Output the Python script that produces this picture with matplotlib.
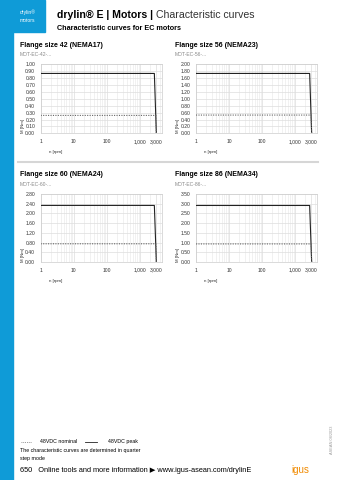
import matplotlib
matplotlib.use("Agg")
import matplotlib.pyplot as plt
import matplotlib.patches as patches
from matplotlib.ticker import FixedLocator, LogLocator, NullFormatter

plt.rcParams['font.family'] = ['Liberation Sans', 'DejaVu Sans']

# data
titles = ["Flange size 42 (NEMA17)", "Flange size 56 (NEMA23)",
          "Flange size 60 (NEMA24)", "Flange size 86 (NEMA34)"]
models = ["MOT-EC-42-...", "MOT-EC-56-...", "MOT-EC-60-...", "MOT-EC-86-..."]
speed_peak = [1, 2700, 3100]
speed_nominal = [1, 3000, 3100]
peak_torque = [0.87, 1.74, 2.33, 2.91]
nominal_torque = [0.26, 0.53, 0.75, 0.93]
y_max = [1.0, 2.0, 2.8, 3.5]
y_step = [0.1, 0.2, 0.4, 0.5]
x_ticks = [1, 10, 100, 1000, 3000]
x_ticklabels = ["1", "10", "100", "1,000", "3,000"]

W, H = 339, 480
fig = plt.figure(figsize=(W / 100, H / 100), dpi=100)

def px(x, y):
    return x / W, 1 - y / H

blue = '#0f9bd7'

# blue side bar and header box
fig.patches.append(patches.Rectangle((0, 0), 13 / W, 1, transform=fig.transFigure, color=blue, zorder=0))
fig.patches.append(patches.Rectangle(px(0, 32), 45 / W, 32 / H, transform=fig.transFigure, color=blue, zorder=0))
fig.text(*px(20, 12), "drylin®", color='white', fontsize=3.6, va='center')
fig.text(*px(20, 21), "motors", color='white', fontsize=3.6, va='center')

fig.text(*px(57, 15), "drylin® E | Motors |", fontsize=7.6, fontweight='bold', va='center')
fig.text(*px(156, 15), "Characteristic curves", fontsize=7.6, va='center', color='#333333')
fig.text(*px(57, 29), "Characteristic curves for EC motors", fontsize=5.2, fontweight='bold', va='center')

# panel positions in px: left, top, right, bottom of plot area
boxes = [(40.7, 64.5, 161.7, 133.3), (196, 64.5, 317, 133.3),
         (40.7, 194, 161.7, 262), (196, 194, 317, 262)]

for i in range(4):
    l, t, r, b = boxes[i]
    ax = fig.add_axes([l / W, 1 - b / H, (r - l) / W, (b - t) / H])
    ax.set_xscale('log')
    ax.set_xlim(1, 4500)
    ax.set_ylim(0, y_max[i])
    ax.plot(speed_peak, [peak_torque[i], peak_torque[i], 0], color='#222222', lw=0.8, zorder=3)
    ax.plot(speed_nominal, [nominal_torque[i], nominal_torque[i], 0], color='#666666', lw=0.8,
            ls=(0, (1, 1.2)), zorder=3)

    n = int(round(y_max[i] / y_step[i]))
    yt = [k * y_step[i] for k in range(n + 1)]
    ax.yaxis.set_major_locator(FixedLocator(yt))
    ax.set_yticklabels(["%.2f" % v for v in yt])
    ax.xaxis.set_major_locator(FixedLocator(x_ticks))
    ax.set_xticklabels(x_ticklabels)
    ax.xaxis.set_minor_locator(LogLocator(base=10, subs=range(2, 10)))
    ax.xaxis.set_minor_formatter(NullFormatter())
    ax.tick_params(length=0, which='both', labelsize=3.6, colors='#333333', pad=4)
    ax.grid(True, which='major', color='#dddddd', lw=0.5)
    ax.grid(True, which='minor', axis='x', color='#e6e6e6', lw=0.4)
    for s in ax.spines.values():
        s.set_color('#cccccc')
        s.set_linewidth(0.5)

    fig.text(*px(l - 21, t - 19), titles[i], fontsize=5, fontweight='bold', va='center')
    fig.text(*px(l - 21, t - 10), models[i], fontsize=3.6, color='#888888', va='center')
    fig.text(*px(l - 18, b), "M [Nm]", fontsize=3.2, rotation=90, va='bottom', ha='center', color='#333333')
    fig.text(*px(l + 8, b + 19), "n [rpm]", fontsize=3.2, va='center', color='#333333')

# separator between rows
fig.add_artist(plt.Line2D([18 / W, 318 / W], [1 - 162 / H] * 2, color='#d6d6d6', lw=1.5))

# footer legend and notes
fig.add_artist(plt.Line2D([21 / W, 32 / W], [1 - 441.5 / H] * 2, color='#777777', lw=0.6, ls=(0, (1, 1.2))))
fig.text(*px(40, 441.5), "48VDC nominal", fontsize=3.8, va='center')
fig.add_artist(plt.Line2D([85 / W, 97 / W], [1 - 441.5 / H] * 2, color='#222222', lw=0.6))
fig.text(*px(108, 441.5), "48VDC peak", fontsize=3.8, va='center')
fig.text(*px(20, 450.5), "The characteristic curves are determined in quarter", fontsize=3.8, va='center')
fig.text(*px(20, 458.5), "step mode", fontsize=3.8, va='center')
fig.text(*px(20, 471), "650   Online tools and more information \u25b6 www.igus-asean.com/drylinE",
         fontsize=5.3, va='center')
fig.text(*px(300, 470), "igus", fontsize=7, color='#f08a00', va='center', ha='center')
fig.text(*px(332, 440), "ASEAN 08/2023", fontsize=2.8, rotation=90, color='#999999', va='center', ha='center')

fig.savefig("out.png", dpi=100)
